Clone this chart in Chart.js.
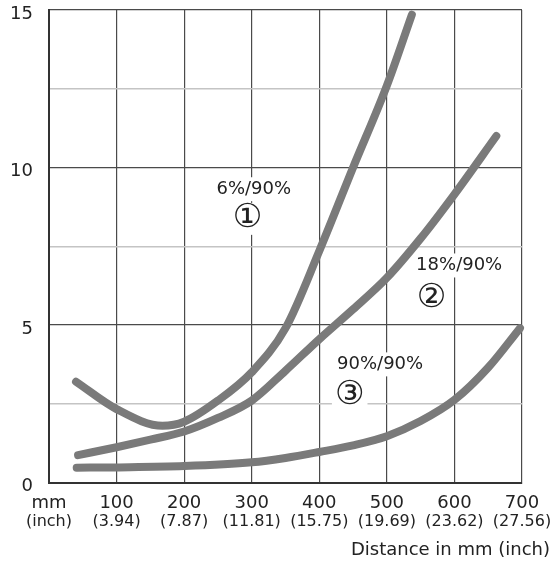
<!DOCTYPE html>
<html>
<head>
<meta charset="utf-8">
<script src="https://cdn.jsdelivr.net/npm/chart.js@4.4.1/dist/chart.umd.min.js"></script>
<style>
  html, body { margin: 0; padding: 0; background: #fff; }
  #wrap { width: 552px; height: 565px; }
</style>
</head>
<body>
<div id="wrap"><canvas id="chart"></canvas></div>
<script>
// Axis tick labels
const mmLabels = ['mm', '100', '200', '300', '400', '500', '600', '700'];
const inchLabels = ['(inch)', '(3.94)', '(7.87)', '(11.81)', '(15.75)', '(19.69)', '(23.62)', '(27.56)'];

// Curve 1 - 6%/90%
const curve1X = [40, 100, 168, 200, 250, 300, 350, 400, 450, 500, 537];
const curve1Y = [3.2, 2.33, 1.8, 1.93, 2.6, 3.5, 4.9, 7.35, 10.0, 12.6, 14.85];

// Curve 2 - 18%/90%
const curve2X = [43, 100, 150, 200, 250, 300, 350, 400, 450, 500, 550, 600, 662];
const curve2Y = [0.87, 1.12, 1.36, 1.62, 2.05, 2.6, 3.55, 4.55, 5.5, 6.5, 7.75, 9.15, 11.0];

// Curve 3 - 90%/90%
const curve3X = [41, 100, 200, 300, 350, 400, 450, 500, 550, 600, 650, 697];
const curve3Y = [0.47, 0.48, 0.52, 0.64, 0.78, 0.97, 1.18, 1.47, 1.95, 2.62, 3.65, 4.9];

// Curve labels
const labelTexts = ['6%/90%', '①', '18%/90%', '②', '90%/90%', '③'];
const labelX = [303, 294, 607, 566, 490, 445];
const labelY = [9.31, 8.37, 6.89, 5.85, 3.75, 2.75];
const labelBig = [false, true, false, true, false, true];

const font = "'DejaVu Sans', 'Noto Sans CJK JP', sans-serif";
const lineGray = '#7a7a7a';

function toPoints(xs, ys) {
  return xs.map((x, i) => ({ x: x, y: ys[i] }));
}

function curve(xs, ys) {
  return {
    data: toPoints(xs, ys),
    borderColor: lineGray,
    borderWidth: 8,
    borderCapStyle: 'round',
    borderJoinStyle: 'round',
    pointRadius: 0,
    fill: false,
    cubicInterpolationMode: 'monotone',
    clip: false
  };
}

// Text labels with white boxes behind them
const curveLabels = {
  id: 'curveLabels',
  beforeDatasetsDraw(chart) {
    const ctx = chart.ctx;
    const xs = chart.scales.x;
    const ys = chart.scales.y;
    ctx.save();
    labelTexts.forEach((t, i) => {
      const px = xs.getPixelForValue(labelX[i]);
      const py = ys.getPixelForValue(labelY[i]);
      const size = labelBig[i] ? 33 : 18;
      ctx.font = size + 'px ' + font;
      const w = ctx.measureText(t).width;
      const h = labelBig[i] ? 28 : 20;
      ctx.fillStyle = '#fff';
      ctx.fillRect(px - w / 2 - 3, py - h / 2 - 2, w + 6, h + 4);
      ctx.fillStyle = '#222';
      ctx.textAlign = 'center';
      ctx.textBaseline = 'middle';
      ctx.fillText(t, px, py);
    });
    ctx.restore();
  }
};

new Chart(document.getElementById('chart'), {
  type: 'line',
  data: {
    datasets: [
      curve(curve1X, curve1Y),
      curve(curve2X, curve2Y),
      curve(curve3X, curve3Y)
    ]
  },
  options: {
    responsive: true,
    maintainAspectRatio: false,
    animation: false,
    layout: {
      padding: { top: 10, right: 2, left: 0, bottom: 0 }
    },
    plugins: {
      legend: { display: false },
      tooltip: { enabled: false },
      title: {
        display: true,
        text: 'Distance in mm (inch)',
        position: 'bottom',
        align: 'end',
        color: '#222',
        font: { family: font, size: 18, weight: 'normal' },
        padding: { top: 0, bottom: 3.4 }
      }
    },
    scales: {
      x: {
        type: 'linear',
        min: 0,
        max: 700,
        grid: {
          color: '#4a4a4a',
          lineWidth: 1.2,
          drawTicks: false
        },
        border: { color: '#333', width: 2 },
        ticks: {
          stepSize: 100,
          autoSkip: false,
          maxRotation: 0,
          padding: 10,
          color: '#222',
          font: { family: font, size: 18 },
          callback: (v, i) => mmLabels[i]
        },
        afterFit: (s) => { s.height = 30; s.paddingRight = 30; s.paddingLeft = 0; }
      },
      x2: {
        type: 'linear',
        position: 'bottom',
        min: 0,
        max: 700,
        grid: { display: false, drawTicks: false },
        border: { display: false },
        ticks: {
          stepSize: 100,
          autoSkip: false,
          maxRotation: 0,
          padding: 0,
          color: '#222',
          font: { family: font, size: 16 },
          callback: (v, i) => inchLabels[i]
        },
        afterFit: (s) => { s.height = 27.5; s.paddingRight = 30; s.paddingLeft = 0; }
      },
      y: {
        min: 0,
        max: 15,
        grid: {
          color: (c) => (c.tick && c.tick.value % 5 === 0) ? '#4a4a4a' : '#c4c4c4',
          lineWidth: (c) => (c.tick && c.tick.value % 5 === 0) ? 1.2 : 1.5,
          drawTicks: false
        },
        border: { color: '#333', width: 2 },
        ticks: {
          stepSize: 2.5,
          autoSkip: false,
          padding: 16,
          labelOffset: 4,
          color: '#222',
          font: { family: font, size: 18 },
          callback: (v) => (v % 5 === 0 ? String(v) : '')
        },
        afterFit: (s) => { s.width = 49; s.paddingTop = 10; s.paddingBottom = 0; }
      }
    }
  },
  plugins: [curveLabels]
});
</script>
</body>
</html>
